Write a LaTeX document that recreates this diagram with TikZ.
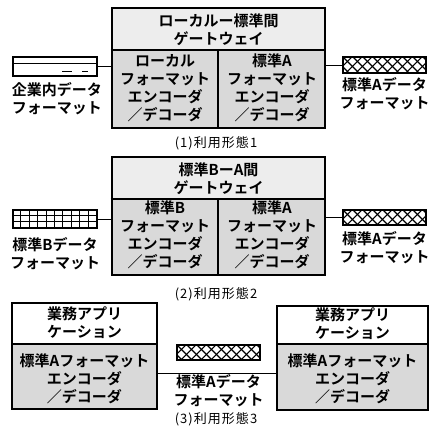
\documentclass[tikz,border=0pt]{standalone}
\usepackage{fontspec}
\setmainfont{Noto Sans CJK JP}[BoldFont={Noto Sans CJK JP Bold}]
\usetikzlibrary{calc}
\newcommand\xhatch[1]{%
  \begin{scope}
    \clip (#1.south west) rectangle (#1.north east);
    \foreach \k in {-3,...,11}{
      \draw[hatchline] ($(#1.north west)+(\k*10,0)$) -- ++(22,22);
      \draw[hatchline] ($(#1.north west)+(\k*10,0)$) -- ++(-22,22);
    }
  \end{scope}}
\begin{document}
\begin{tikzpicture}[x=1pt,y=-1pt,
  lbl/.style={align=center,inner sep=0pt,font=\fontsize{15}{18}\selectfont\bfseries},
  captxt/.style={inner sep=0pt,font=\fontsize{13}{15}\selectfont\addfontfeature{LetterSpace=8}},
  gwbox/.style={draw,line width=2.6pt,inner sep=0pt,rectangle},
  appbox/.style={draw,line width=1.3pt,inner sep=0pt,rectangle},
  filebox/.style={draw,line width=1.2pt,inner sep=0pt,rectangle,fill=white},
  divider/.style={line width=1.2pt},
  conn/.style={line width=0.9pt},
  hatchline/.style={line width=1.1pt},
  darkfill/.style={fill=black!15},
  lightfill/.style={fill=black!7}]
\useasboundingbox (0,0) rectangle (430,434);

% ---------- Panel 1 ----------
\fill[lightfill] (112,8) rectangle (325,50);
\fill[darkfill] (112,50) rectangle (325,128);
\node[gwbox,minimum width=213pt,minimum height=120pt] (gw1) at (218.5,68) {};
\draw[divider] (gw1.west |- 0,50) -- (gw1.east |- 0,50);
\draw[divider] (218,50) -- (218,128);
\node[lbl] (gw1t) at (218.5,30) {ローカルー標準間\\ゲートウェイ};
\node[lbl] (gw1l) at (165,88) {ローカル\\フォーマット\\エンコーダ\\／デコーダ};
\node[lbl] (gw1r) at (272,88) {標準A\\フォーマット\\エンコーダ\\／デコーダ};

\node[filebox,minimum width=84pt,minimum height=19pt] (file1) at (55,66.5) {};
\draw[line width=0.9pt] ($(file1.north west)+(0,7)$) -- ($(file1.north east)+(0,7)$);
\draw[line width=1pt] (62,71.5) -- (72,71.5) (82,71.5) -- (88,71.5);
\node[lbl] (file1l) at (57,99) {企業内データ\\フォーマット};

\node[filebox,minimum width=83pt,minimum height=16pt] (cross1) at (384.5,65) {};
\xhatch{cross1}
\node[filebox,fill=none,minimum width=83pt,minimum height=16pt] at (cross1) {};
\node[lbl] (cross1l) at (384.5,94) {標準Aデータ\\フォーマット};

\draw[conn] (file1.east) -- (file1.east -| gw1.west);
\draw[conn] (cross1.west) -- (cross1.west -| gw1.east);
\node[captxt] (cap1) at (216,143) {(1)利用形態1};

% ---------- Panel 2 ----------
\fill[lightfill] (112,157) rectangle (325,199);
\fill[darkfill] (112,199) rectangle (325,275);
\node[gwbox,minimum width=213pt,minimum height=118pt] (gw2) at (218.5,216) {};
\draw[divider] (gw2.west |- 0,199) -- (gw2.east |- 0,199);
\draw[divider] (218,199) -- (218,275);
\node[lbl] (gw2t) at (218.5,178.5) {標準BーA間\\ゲートウェイ};
\node[lbl] (gw2l) at (165,235) {標準B\\フォーマット\\エンコーダ\\／デコーダ};
\node[lbl] (gw2r) at (272,235) {標準A\\フォーマット\\エンコーダ\\／デコーダ};

\node[filebox,minimum width=84pt,minimum height=18pt] (grid2) at (55,219) {};
\foreach \i in {1,...,9}
  \draw[line width=0.9pt] ($(grid2.north west)+(\i*8.4,0)$) -- ++(0,18);
\draw[line width=0.9pt] ($(grid2.north west)+(0,6)$) -- ++(84,0);
\draw[line width=0.9pt] ($(grid2.north west)+(0,12)$) -- ++(84,0);
\node[filebox,fill=none,minimum width=84pt,minimum height=18pt] at (grid2) {};
\node[lbl] (grid2l) at (55,254) {標準Bデータ\\フォーマット};

\node[filebox,minimum width=83pt,minimum height=15pt] (cross2) at (384.5,217.5) {};
\xhatch{cross2}
\node[filebox,fill=none,minimum width=83pt,minimum height=15pt] at (cross2) {};
\node[lbl] (cross2l) at (384.5,247.5) {標準Aデータ\\フォーマット};

\draw[conn] (grid2.east) -- (grid2.east -| gw2.west);
\draw[conn] (cross2.west) -- (cross2.west -| gw2.east);
\node[captxt] (cap2) at (216,294) {(2)利用形態2};

% ---------- Panel 3 ----------
\fill[darkfill] (12,344) rectangle (157,409);
\node[appbox,minimum width=145pt,minimum height=106pt] (app3l) at (84.5,356) {};
\draw[divider] (app3l.west |- 0,344) -- (app3l.east |- 0,344);
\node[lbl] (app3lt) at (84.5,322.5) {業務アプリ\\ケーション};
\node[lbl] (app3lb) at (84.5,378.5) {標準Aフォーマット\\エンコーダ\\／デコーダ};

\fill[darkfill] (277,344) rectangle (428,410);
\node[appbox,minimum width=151pt,minimum height=104pt] (app3r) at (352.5,358) {};
\draw[divider] (app3r.west |- 0,344) -- (app3r.east |- 0,344);
\node[lbl] (app3rt) at (352.5,324) {業務アプリ\\ケーション};
\node[lbl] (app3rb) at (352.5,378.5) {標準Aフォーマット\\エンコーダ\\／デコーダ};

\node[filebox,minimum width=83pt,minimum height=15pt] (cross3) at (218.5,352.5) {};
\xhatch{cross3}
\node[filebox,fill=none,minimum width=83pt,minimum height=15pt] at (cross3) {};
\coordinate (c3) at (218,373);
\draw[conn] (c3 -| app3l.east) -- (c3 -| app3r.west);
\node[lbl] (cross3l) at (218.5,390.5) {標準Aデータ\\フォーマット};
\node[captxt] (cap3) at (216,419) {(3)利用形態3};
\end{tikzpicture}
\end{document}
